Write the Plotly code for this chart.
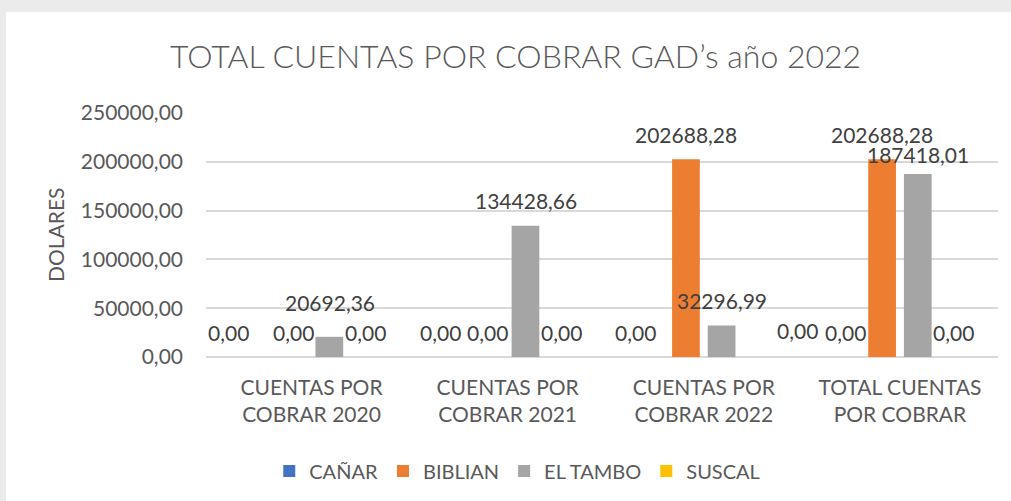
import plotly.graph_objects as go

categories = ["CUENTAS POR<br>COBRAR 2020", "CUENTAS POR<br>COBRAR 2021",
              "CUENTAS POR<br>COBRAR 2022", "TOTAL CUENTAS<br>POR COBRAR"]
series_names = ["CAÑAR", "BIBLIAN", "EL TAMBO", "SUSCAL"]
canar = [0.00, 0.00, 0.00, 0.00]
biblian = [0.00, 0.00, 202688.28, 202688.28]
el_tambo = [20692.36, 134428.66, 32296.99, 187418.01]
suscal = [0.00, 0.00, 0.00, 0.00]
y_ticks = [0, 50000, 100000, 150000, 200000, 250000]

series_values = [canar, biblian, el_tambo, suscal]
colors = ["#4472C4", "#ED7D31", "#A5A5A5", "#FFC000"]

FONT = "Lato"
TXT = "#595959"

fig = go.Figure()
for name, vals, col in zip(series_names, series_values, colors):
    fig.add_trace(go.Bar(name=name, x=categories, y=vals, marker_color=col,
                         marker_line_width=0))

# label placement nudges (pixels) mimicking the original manual label layout
nudge = {(0, 0): (-29, 0), (0, 1): (-13, 0), (1, 1): (-2, 0), (0, 2): (-14, 0),
         (3, 2): (40, 2), (2, 0): (0, 9), (2, 3): (0, -5)}
step = 36
annotations = []
for i, vals in enumerate(series_values):
    for j, v in enumerate(vals):
        dx, dy = nudge.get((i, j), (0, 0))
        annotations.append(dict(
            x=categories[j], y=v, xref="x", yref="y",
            text=f"{v:.2f}".replace(".", ","), showarrow=False,
            xshift=(i - 1.5) * step + dx, yshift=25 + dy,
            yanchor="middle", xanchor="center",
            font=dict(family=FONT, size=21, color="#404040")))

annotations.append(dict(
    text="DOLARES", textangle=-90, xref="paper", yref="paper",
    x=(55 - 206) / 792, y=0.5, xanchor="center", yanchor="middle",
    showarrow=False, font=dict(family=FONT, size=21, color=TXT)))

fig.update_layout(
    width=1011, height=501,
    margin=dict(l=206, r=13, t=113, b=144, autoexpand=False),
    paper_bgcolor="#EBEBEB", plot_bgcolor="white",
    separators=",.",
    barmode="group", bargap=0.273, bargroupgap=0.222,
    title=dict(text="TOTAL CUENTAS POR COBRAR GAD’s año 2022",
               xref="container", yref="container", x=0.51, y=1 - 57 / 501,
               xanchor="center", yanchor="middle",
               font=dict(family=FONT, size=32, color=TXT, weight=300)),
    font=dict(family=FONT, size=21, color=TXT),
    legend=dict(orientation="h", x=0.393, y=(357 - 471) / 244,
                xanchor="center", yanchor="middle",
                font=dict(family=FONT, size=20, color=TXT),
                bgcolor="rgba(0,0,0,0)"),
    annotations=annotations,
    shapes=[dict(type="rect", xref="paper", yref="paper",
                 x0=(6 - 206) / 792, x1=(1011 - 206) / 792,
                 y0=-144 / 244, y1=(357 - 12) / 244,
                 fillcolor="white", line_width=0, layer="below")],
)
fig.update_xaxes(showgrid=False, showline=False, ticks="", ticklabelstandoff=16,
                 tickfont=dict(family=FONT, size=21, color=TXT))
fig.update_yaxes(range=[0, 250000], tickvals=y_ticks, tickformat=".2f",
                 showgrid=True, gridcolor="#D9D9D9", gridwidth=1.5,
                 zeroline=True, zerolinecolor="#D9D9D9", zerolinewidth=1.5,
                 showline=False, ticks="", ticklabelstandoff=22,
                 tickfont=dict(family=FONT, size=21, color=TXT))

fig.write_html("out.html", config={"displayModeBar": False},
               post_script="document.body.style.margin='0';"
                           "document.body.style.overflow='hidden';")
